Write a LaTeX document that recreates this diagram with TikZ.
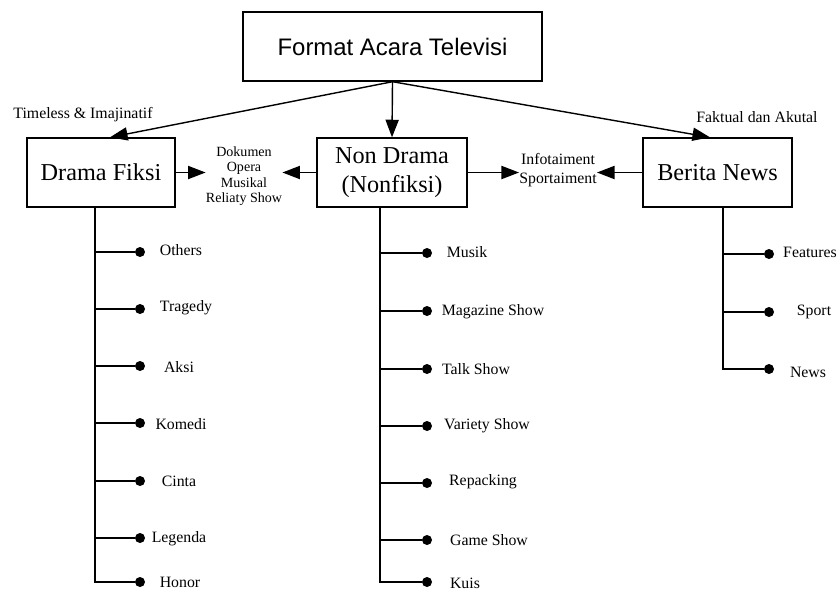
\documentclass[tikz,border=0pt]{standalone}
\usepackage{fontspec}
\setmainfont{Liberation Serif}
\newfontfamily\judulfont{Liberation Sans}
\usetikzlibrary{arrows.meta}

\tikzset{
  kotak/.style={draw, line width=0.8pt, minimum height=1.38cm, inner sep=2pt, align=center, font=\fontsize{13.8}{16.4}\selectfont},
  panah/.style={line width=0.8pt, -{Triangle[length=10pt,width=7.5pt]}},
  garis/.style={line width=0.8pt},
  titik/.style={circle, fill=black, inner sep=0pt, minimum size=0.2cm},
  ket/.style={font=\fontsize{9}{10.8}\selectfont, inner sep=0pt, align=center},
}

\begin{document}
\begin{tikzpicture}[x=0.02cm, y=-0.02cm]
\useasboundingbox (0,0) rectangle (837,593);

% kotak utama
\node[kotak, minimum width=5.98cm, font=\judulfont\fontsize{13.6}{16.4}\selectfont] (format) at (392.5,46.5) {Format Acara Televisi};
\node[kotak, minimum width=2.96cm] (drama)    at (101,172.5)   {Drama Fiksi};
\node[kotak, minimum width=3.00cm] (nondrama) at (392,172.5)   {Non Drama\\(Nonfiksi)};
\node[kotak, minimum width=2.98cm] (berita)   at (717.5,172.5) {Berita News};

\node[ket] (timeless) at (83,115)  {Timeless \& Imajinatif};
\node[ket] (faktual)  at (757,117) {Faktual dan Akutal};
\node[ket, font=\fontsize{8}{8.8}\selectfont] (dokumen) at (244,176) {Dokumen\\Opera\\Musikal\\Reliaty Show};
\node[ket] (info) at (558,170) {Infotaiment\\Sportaiment};

\draw[panah] (format.south) -- ([xshift=0.18cm]drama.north);
\draw[panah] (format.south) -- (nondrama.north);
\draw[panah] (format.south) -- ([xshift=-0.15cm]berita.north);

\draw[panah] (drama.east) -- (drama.east -| dokumen.west);
\draw[panah] (nondrama.west) -- (nondrama.west -| dokumen.east);
\draw[panah] (nondrama.east) -- (nondrama.east -| info.west);
\draw[panah] (berita.west) -- (berita.west -| info.east);

% cabang drama fiksi
\coordinate (dtrunk) at ([xshift=-0.12cm]drama.south);
\node[titik] (d1) at (140,252) {};
\node[titik] (d2) at (140,309) {};
\node[titik] (d3) at (140,366) {};
\node[titik] (d4) at (140,423) {};
\node[titik] (d5) at (140,481) {};
\node[titik] (d6) at (140,538) {};
\node[titik] (d7) at (140,582) {};
\node[ket] (others)  at (181,250) {Others};
\node[ket] (tragedy) at (186,308) {Tragedy};
\node[ket] (aksi)    at (179,367) {Aksi};
\node[ket] (komedi)  at (181,424) {Komedi};
\node[ket] (cinta)   at (179,481) {Cinta};
\node[ket] (legenda) at (179,539) {Legenda};
\node[ket] (honor)   at (180,582) {Honor};
\draw[garis] (dtrunk) |- (d7);
\draw[garis] (dtrunk |- d1) -- (d1);
\draw[garis] (dtrunk |- d2) -- (d2);
\draw[garis] (dtrunk |- d3) -- (d3);
\draw[garis] (dtrunk |- d4) -- (d4);
\draw[garis] (dtrunk |- d5) -- (d5);
\draw[garis] (dtrunk |- d6) -- (d6);

% cabang non drama
\coordinate (ntrunk) at ([xshift=-0.24cm]nondrama.south);
\node[titik] (n1) at (427,253) {};
\node[titik] (n2) at (427,311) {};
\node[titik] (n3) at (427,369) {};
\node[titik] (n4) at (427,426) {};
\node[titik] (n5) at (427,483) {};
\node[titik] (n6) at (427,540) {};
\node[titik] (n7) at (427,582) {};
\node[ket] (musik)    at (467,252) {Musik};
\node[ket] (magazine) at (493,312) {Magazine Show};
\node[ket] (talk)     at (476,369) {Talk Show};
\node[ket] (variety)  at (487,426) {Variety Show};
\node[ket] (repack)   at (483,482) {Repacking};
\node[ket] (game)     at (489,540) {Game Show};
\node[ket] (kuis)     at (465,583) {Kuis};
\draw[garis] (ntrunk) |- (n7);
\draw[garis] (ntrunk |- n1) -- (n1);
\draw[garis] (ntrunk |- n2) -- (n2);
\draw[garis] (ntrunk |- n3) -- (n3);
\draw[garis] (ntrunk |- n4) -- (n4);
\draw[garis] (ntrunk |- n5) -- (n5);
\draw[garis] (ntrunk |- n6) -- (n6);

% cabang berita
\coordinate (btrunk) at ([xshift=0.11cm]berita.south);
\node[titik] (b1) at (769,254) {};
\node[titik] (b2) at (769,312) {};
\node[titik] (b3) at (769,369) {};
\node[ket] (features) at (810,252) {Features};
\node[ket] (sport)    at (814,312) {Sport};
\node[ket] (news)     at (808,372) {News};
\draw[garis] (btrunk) |- (b3);
\draw[garis] (btrunk |- b1) -- (b1);
\draw[garis] (btrunk |- b2) -- (b2);

\end{tikzpicture}
\end{document}
